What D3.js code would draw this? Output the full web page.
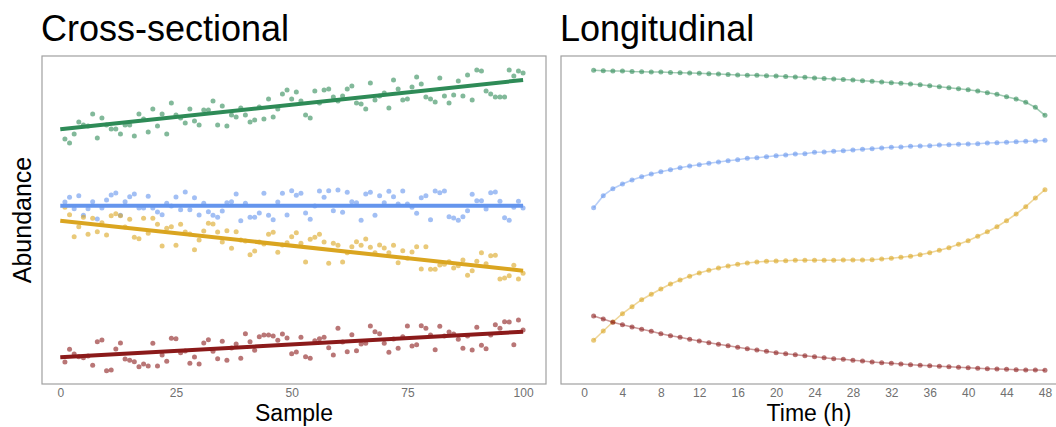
<html>
<head>
<meta charset="utf-8" />
<script src="https://d3js.org/d3.v7.min.js"></script>
<style>
  body { margin: 0; background: #fff; }
  text { font-family: "Liberation Sans", Arial, sans-serif; }
</style>
</head>
<body>
<svg id="chart" width="1056" height="427"></svg>
<script>
// ---- cross-sectional data (sample 1..100) ----
let samples = d3.range(1, 101)
let greenPts = [245,241,250,262,259,258,270,246,266,259,255,255,250,259,259,248,270,265,252,275,258,270,250,281,269,266,261,275,263,259,274,274,283,259,278,258,269,267,276,269,262,264,277,265,285,267,275,290,294,285,292,
  283,269,266,293,281,294,295,287,283,288,295,298,281,280,275,301,284,288,291,276,304,295,284,285,297,307,300,287,285,282,306,288,281,289,303,288,309,284,314,313,293,290,287,287,287,314,308,313,311]
let bluePts = [182,186.7,175.3,188.3,168.7,175.3,182.3,165,176,184,189,191,168.7,182.3,187.3,190,176,176,187.7,176,
  172,169.3,180.7,178,187,174.3,192,174.3,186.3,169,180.7,172.3,168.7,166.7,173,181.3,182.3,190,163.3,180.7,
  166.7,166.7,171,190.7,168.7,164.3,182,190.7,169,193.3,188.7,190.7,171,164.7,178,193,186.7,193.3,173.3,194,171.7,
  191.7,182.3,181.3,163.7,190,191.7,168.7,188.3,181.3,192.7,187.3,180,193,180,176.7,170.7,186.3,188.3,164.3,193,
  191.3,193,167.3,166,163.7,167.3,173.3,189.7,183.3,183.3,175,191.3,192,182.7,166.3,163.7,176.7,182.7,176]
let goldPts = [176.7,169.3,147.3,157.3,166.7,149.7,165.7,152.3,161.3,149,168.3,170.3,168.3,157,164.7,146.7,145.3,165.7,150.7,165.7,
  159.7,138,155.7,157.3,138.7,159.7,152,150,134.3,144,153,160.7,160,152,142,153.3,135.7,152.3,144,143,
  129.3,133,142,140,149.7,151.7,131.7,139,141.3,147.3,151.3,140.7,122,144.7,146.7,149.7,142,120.7,140.7,138.7,122,
  131.3,137.3,142.3,138.7,145,136.7,131.3,139,136,131.3,138.7,121.3,133.3,125.7,132,137.3,115,137.3,114.7,114.7,
  119,119.7,122.3,116,118.3,124,108.7,113.3,122.7,131.3,120.3,128.3,128.7,105,106,108.3,118.7,105,110.7]
let redPts = [22,34.7,30,27.3,26.3,28,18.7,42.3,44,13.3,14,35,41,25,23.7,22.3,17.3,20,18,40.7,
  18,29,22.7,45.7,45.3,31.3,33,20.7,27,20,41,44.3,32.7,25.3,42.7,23.7,36,40,25.7,50.3,
  42.3,33.7,47.3,49,49,48,43.7,50,46,30.3,32,46.7,27.3,25.7,43.3,45.3,46.7,36.3,29,55.7,42,
  32.3,49.3,33.3,40,40.7,58,52.3,50.3,40.7,31.7,45,35.7,47.3,58,38,39.3,58.3,55.7,49,34.3,
  57.7,48,52,50,44.7,35.7,48,34,56.7,38.7,35.3,49,59.3,55.7,62.3,62,39.3,64,54]
// fitted trend lines: value at sample 0 and sample 100
let fitX = [0, 100]
let greenFit = [254.7, 304]
let blueFit = [178.3, 178.3]
let goldFit = [163.3, 113.3]
let redFit = [26.7, 52.3]

// ---- longitudinal data (hour 1..48) ----
let hours = d3.range(1, 49)
let greenTime = [313.7,313.3,313,313,312.5,312.3,312,312,311.5,311.3,311,310.7,310.3,310,309.5,309,308.8,308.7,308.2,308,307.5,307,306.7,306,
  305.5,305,304.5,304,303.3,302.7,302,301.3,300.7,300,299.2,298.3,297.3,296.3,295.3,294.3,293,291.3,289.7,287.3,285,281.7,276.7,268.7]
let blueTime = [176.3,188.3,195.3,200,204,207.3,210,212.3,214.3,216.3,218,219.3,220.7,222,223.3,224.3,225.7,226.3,227.3,228.3,229,230,230.3,231.7,
  232,232.7,233.3,234,234.7,235.3,236,236.7,237,237.7,238,238.3,239,239.3,239.7,240,240.3,241,241.3,241.7,242.3,242.7,243,243.7]
let goldTime = [43.7,53,62,70.3,77.3,84.3,89.7,95,100,104,107.7,111,113.7,116,118,119.7,121,122,122.7,123,123.3,123.7,123.7,123.7,
  123.7,123.7,124,124,124,124.3,125,125.7,126.7,127.7,129.3,131.3,133.7,136.3,139.7,143.3,147.7,152.3,157.3,163.3,170,177.3,186,194.3]
let redTime = [68,65,61.7,59.3,57,54.7,52.7,50.3,48.3,46.7,44.7,43,41.3,39.7,38.3,36.7,35.3,34,32.7,31.3,30.3,29.3,28.3,27.3,
  26.3,25.3,24.7,23.7,23,22,21.3,20.7,20,19.3,18.7,18.3,17.7,17.3,16.7,16.3,15.7,15.3,15,14.7,14.3,14,14,13.7]

let sampleTicks = [0, 25, 50, 75, 100]
let hourTicks = d3.range(0, 49, 4)
let colors = ["#2E8B57", "#6495ED", "#DAA520", "#8B1A1A"]

let svg = d3.select("#chart")
let panelTop = 56, panelBottom = 384
let y = d3.scaleLinear().domain([0, 328]).range([panelBottom, panelTop])

function panel(x0, x1, title) {
    svg.append("rect").attr("x", x0).attr("y", panelTop).attr("width", x1 - x0).attr("height", panelBottom - panelTop)
        .attr("fill", "#fff").attr("stroke", "#a0a0a0").attr("stroke-width", 1.2)
    svg.append("text").attr("x", x0 - 1).attr("y", 41).attr("font-size", 36).attr("fill", "#000").text(title)
}

// left panel
let xL = d3.scaleLinear().domain([-3.95, 104.95]).range([42, 546])
panel(42, 546, "Cross-sectional")
let leftSeries = [[greenPts, greenFit], [bluePts, blueFit], [goldPts, goldFit], [redPts, redFit]]
leftSeries.forEach(([pts, fit], i) => {
    svg.append("g").selectAll("circle").data(pts).enter().append("circle")
        .attr("cx", (d, j) => xL(samples[j])).attr("cy", d => y(d)).attr("r", 2.5)
        .attr("fill", colors[i]).attr("opacity", 0.6)
})
leftSeries.forEach(([pts, fit], i) => {
    svg.append("path").datum(fit)
        .attr("d", d3.line().x((d, j) => xL(fitX[j])).y(d => y(d)))
        .attr("stroke", colors[i]).attr("stroke-width", 4).attr("fill", "none")
})

// right panel
let xR = d3.scaleLinear().domain([-2.4, 50.4]).range([561, 1068])
panel(561, 1068, "Longitudinal")
;[greenTime, blueTime, goldTime, redTime].forEach((vals, i) => {
    svg.append("path").datum(vals)
        .attr("d", d3.line().x((d, j) => xR(hours[j])).y(d => y(d)))
        .attr("stroke", colors[i]).attr("stroke-width", 1.6).attr("fill", "none").attr("opacity", 0.45)
    svg.append("g").selectAll("circle").data(vals).enter().append("circle")
        .attr("cx", (d, j) => xR(hours[j])).attr("cy", d => y(d)).attr("r", 2.5)
        .attr("fill", colors[i]).attr("opacity", 0.6)
})

// axes (labels only, no tick marks)
function axis(scale, ticks) {
    let g = svg.append("g").attr("transform", `translate(0,${panelBottom + 3})`)
        .call(d3.axisBottom(scale).tickValues(ticks).tickSize(0).tickPadding(1))
    g.select(".domain").remove()
    g.selectAll("text").attr("font-size", 12).attr("fill", "#707070")
        .attr("font-family", '"Liberation Sans", Arial, sans-serif')
}
axis(xL, sampleTicks)
axis(xR, hourTicks)

svg.append("text").attr("x", 294).attr("y", 421).attr("text-anchor", "middle")
    .attr("font-size", 23).text("Sample")
svg.append("text").attr("x", 809).attr("y", 421).attr("text-anchor", "middle")
    .attr("font-size", 23).text("Time (h)")
svg.append("text").attr("transform", "translate(31,220) rotate(-90)").attr("text-anchor", "middle")
    .attr("font-size", 25).text("Abundance")
</script>
</body>
</html>
